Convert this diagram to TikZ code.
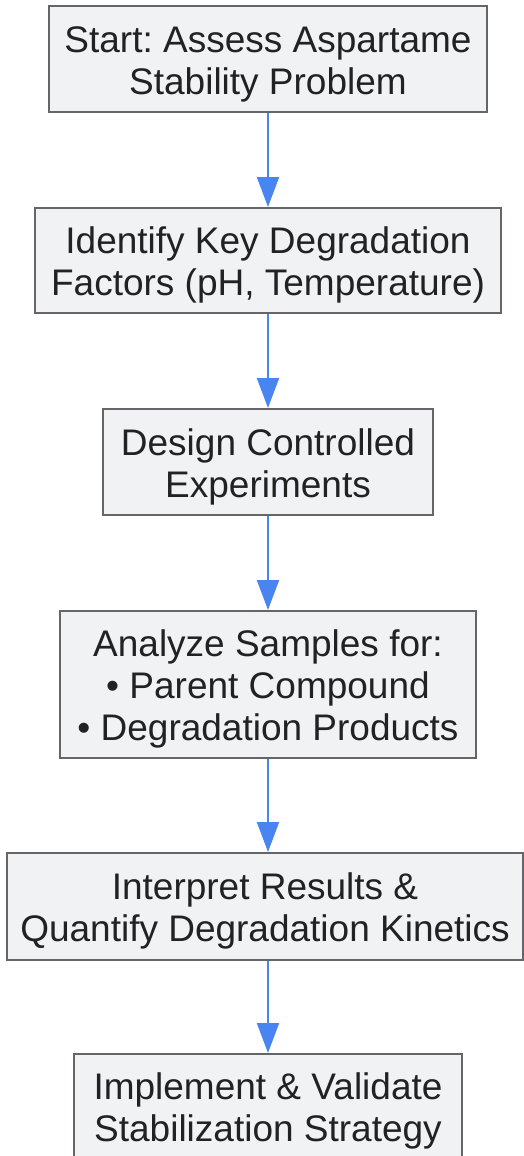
\documentclass[tikz,border=0pt]{standalone}
\usepackage{fontspec}
\setmainfont{Liberation Sans}
\usetikzlibrary{arrows.meta}
\definecolor{boxfill}{RGB}{241,242,244}
\definecolor{boxline}{RGB}{102,102,106}
\definecolor{flowblue}{RGB}{72,133,240}
\definecolor{textgray}{RGB}{34,34,34}
% struts so the lines sit like the browser's line boxes
\newcommand{\topline}{\rule{0pt}{36pt}}
\newcommand{\lastline}{\rule[-6pt]{0pt}{6pt}}

\begin{document}
\frenchspacing
\begin{tikzpicture}[x=1pt,y=-1pt,
  stepbox/.style={draw=boxline, fill=boxfill, line width=2pt, text=textgray,
    align=center, inner sep=0pt, font=\fontsize{37}{42}\selectfont},
  flow/.style={draw=flowblue, line width=2pt, -{Triangle[width=22pt,length=30pt]}}]
\useasboundingbox (0,0) rectangle (524,1156);
% draw the step boxes
\node[stepbox, minimum width=438pt, minimum height=106pt] (start) at (268,59.3)
  {\topline Start: Assess Aspartame\\Stability Problem\lastline};
\node[stepbox, minimum width=466pt, minimum height=105pt] (factors) at (268,260.5)
  {\topline Identify Key Degradation\\Factors (pH, Temperature)\lastline};
\node[stepbox, minimum width=330pt, minimum height=106pt] (design) at (268,462)
  {\topline Design Controlled\\Experiments\lastline};
\node[stepbox, minimum width=416pt, minimum height=147pt] (analyze) at (268,684.5)
  {\topline Analyze Samples for:\\• Parent Compound\\• Degradation Products\lastline};
\node[stepbox, minimum width=516pt, minimum height=107pt] (interpret) at (265,906.5)
  {\topline Interpret Results \&\\Quantify Degradation Kinetics\lastline};
\node[stepbox, minimum width=388pt, minimum height=105pt] (implement) at (268,1106.5)
  {\topline Implement \& Validate\\Stabilization Strategy\lastline};
% draw the arrows between steps
\draw[flow] (start) -- (factors);
\draw[flow] (factors) -- (design);
\draw[flow] (design) -- (analyze);
\draw[flow] (analyze.south) -- (analyze.south |- interpret.north);
\draw[flow] (interpret.south -| implement.north) -- (implement);
\end{tikzpicture}
\end{document}
